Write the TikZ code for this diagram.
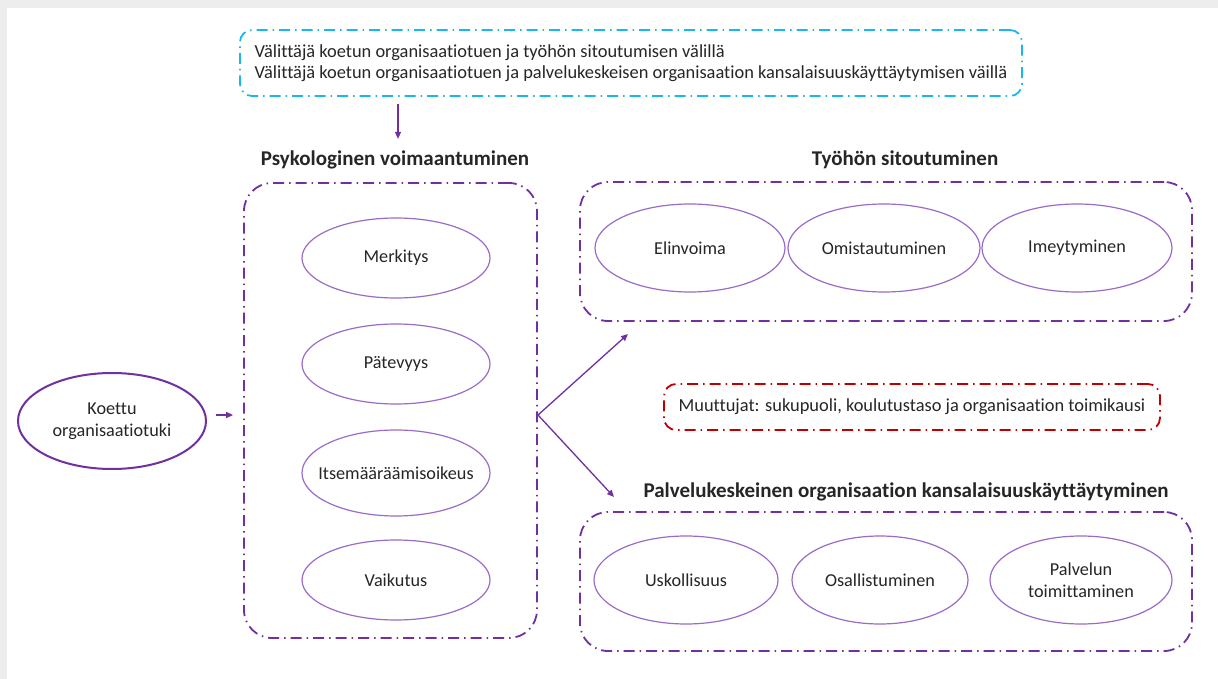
\documentclass[tikz,border=0pt]{standalone}
\usepackage{fontspec}
\setmainfont{Carlito}[Ligatures=NoCommon]
\usetikzlibrary{arrows.meta,shapes.geometric}
\definecolor{vio}{HTML}{7030A0}
\definecolor{vioL}{HTML}{9A6CC8}
\definecolor{cyanb}{HTML}{1BB6EE}
\definecolor{redb}{HTML}{C00000}
\definecolor{ink}{HTML}{262626}
\definecolor{frame}{HTML}{EDEDED}
\tikzset{
  dd/.style={line width=1.8pt,dash pattern=on 11pt off 5pt on 1.5pt off 5pt},
  group/.style={draw=vio,dd,rounded corners=28pt,rectangle},
  note/.style={dd,rounded corners=12pt,rectangle,text=ink,font=\fontsize{18.4}{21.5}\selectfont,align=left},
  itemtext/.style={text=ink,font=\fontsize{18.2}{22}\selectfont,align=center,inner sep=0pt},
  item/.style={ellipse,draw=vioL,line width=1.2pt,minimum width=188pt,minimum height=80pt,itemtext},
  heading/.style={font=\bfseries\fontsize{21}{24}\selectfont,text=ink},
  arr/.style={draw=vio,line width=1.3pt,-{Triangle[length=7pt,width=6pt]}},
}
\begin{document}
\begin{tikzpicture}[x=1pt,y=-1pt]
\useasboundingbox (0,0) rectangle (1218,679);
\fill[white] (0,0) rectangle (1218,679);
\fill[frame] (0,0) rectangle (1218,8);
\fill[frame] (0,0) rectangle (7,679);

% mediator note and moderator note
\node[note,draw=cyanb,minimum width=782pt,minimum height=66pt] (med) at (631,63)
  {Välittäjä koetun organisaatiotuen ja työhön sitoutumisen välillä\\
   Välittäjä koetun organisaatiotuen ja palvelukeskeisen organisaation kansalaisuuskäyttäytymisen väillä};
\node[note,draw=redb,minimum width=496pt,minimum height=46pt] (ctrl) at (912,407)
  {Muuttujat: sukupuoli, koulutustaso ja organisaation toimikausi};

% independent variable
\node[item,draw=vio,line width=2pt,minimum height=96pt] (pos) at (112,421) {Koettu\\organisaatiotuki};

% psychological empowerment
\node[heading] (tpsy) at (395,160) {Psykologinen voimaantuminen};
\node[group,minimum width=293pt,minimum height=455pt] (psy) at (390.5,410.5) {};
\node[item] (m1) at (396,258) {Merkitys};
\node[item] (m2) at (396,364) {Pätevyys};
\node[item,minimum height=86pt,label={[itemtext]center:Itsemääräämisoikeus}] (m3) at (396,473) {};
\node[item] (m4) at (396,580) {Vaikutus};

% work engagement
\node[heading] (twe) at (905,160) {Työhön sitoutuminen};
\node[group,minimum width=612pt,minimum height=139pt] (we) at (886,251.5) {};
\node[item,minimum width=190pt,minimum height=88pt] (w1) at (690,248) {Elinvoima};
\node[item,minimum width=192pt,minimum height=88pt] (w2) at (884,248) {Omistautuminen};
\node[item,minimum width=190pt,minimum height=88pt] (w3) at (1077,248) {Imeytyminen};

% service-oriented citizenship behaviour
\node[heading] (tsc) at (906,492) {Palvelukeskeinen organisaation kansalaisuuskäyttäytyminen};
\node[group,minimum width=612pt,minimum height=139pt] (sc) at (886,581.5) {};
\node[item,minimum width=184pt,minimum height=88pt] (s1) at (686,580) {Uskollisuus};
\node[item,minimum width=176pt,minimum height=88pt] (s2) at (880,580) {Osallistuminen};
\node[item,minimum width=182pt,minimum height=88pt] (s3) at (1081,580) {Palvelun\\toimittaminen};

% connectors
\coordinate (fork) at (538,415);
\coordinate (toWE) at (628,334);
\coordinate (toSC) at (614,497);
\draw[arr] ([xshift=3pt,yshift=-7pt]med.south -| tpsy) -- ([xshift=3pt,yshift=-42pt]med.south -| tpsy);
\draw[arr] ([xshift=9pt,yshift=6pt]pos.east) -- ([xshift=-10pt]pos.east |- fork -| psy.west);
\draw[arr] (fork) -- (toWE);
\draw[arr] (fork) -- (toSC);
\end{tikzpicture}
\end{document}
